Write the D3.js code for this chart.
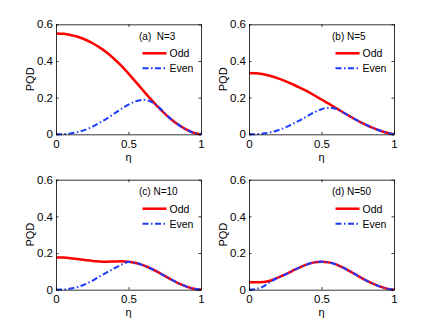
<!DOCTYPE html>
<html>
<head>
<meta charset="utf-8">
<script src="https://cdn.jsdelivr.net/npm/d3@7"></script>
<style>
  body { margin: 0; background: #fff; }
  svg { display: block; }
</style>
</head>
<body>
<svg id="chart"></svg>
<script>
// eta grid, step 0.05
var eta = [0, 0.05, 0.1, 0.15, 0.2, 0.25, 0.3, 0.35, 0.4, 0.45, 0.5,
           0.55, 0.6, 0.65, 0.7, 0.75, 0.8, 0.85, 0.9, 0.95, 1];

var oddN3  = [0.550, 0.548, 0.542, 0.532, 0.517, 0.498, 0.474, 0.446, 0.412, 0.374, 0.331,
              0.286, 0.240, 0.195, 0.152, 0.113, 0.078, 0.049, 0.025, 0.008, 0];
var evenN3 = [0, 0.001, 0.005, 0.012, 0.024, 0.041, 0.062, 0.086, 0.112, 0.138, 0.162,
              0.180, 0.188, 0.180, 0.155, 0.115, 0.078, 0.049, 0.025, 0.008, 0];

var oddN5  = [0.335, 0.333, 0.328, 0.318, 0.305, 0.290, 0.273, 0.255, 0.235, 0.213, 0.190,
              0.167, 0.143, 0.119, 0.096, 0.074, 0.054, 0.036, 0.021, 0.008, 0];
var evenN5 = [0, 0.001, 0.005, 0.011, 0.022, 0.037, 0.056, 0.076, 0.098, 0.120, 0.137,
              0.144, 0.139, 0.119, 0.096, 0.074, 0.054, 0.036, 0.021, 0.008, 0];

var oddN10  = [0.176, 0.175, 0.172, 0.167, 0.162, 0.157, 0.154, 0.153, 0.154, 0.155, 0.153,
               0.146, 0.134, 0.117, 0.097, 0.075, 0.053, 0.033, 0.017, 0.005, 0];
var evenN10 = [0, 0.001, 0.006, 0.015, 0.029, 0.048, 0.072, 0.094, 0.116, 0.136, 0.151,
               0.146, 0.134, 0.117, 0.097, 0.075, 0.053, 0.033, 0.017, 0.005, 0];

var oddN50  = [0.040, 0.040, 0.042, 0.050, 0.066, 0.083, 0.103, 0.122, 0.138, 0.149, 0.153,
               0.149, 0.138, 0.120, 0.099, 0.076, 0.054, 0.034, 0.018, 0.006, 0];
var evenN50 = [0, 0.004, 0.018, 0.045, 0.066, 0.083, 0.103, 0.122, 0.138, 0.149, 0.153,
               0.149, 0.138, 0.120, 0.099, 0.076, 0.054, 0.034, 0.018, 0.006, 0];

var panelLabels = ["(a)  N=3", "(b) N=5", "(c) N=10", "(d) N=50"];
var seriesNames = ["Odd", "Even"];
var xTicks = [0, 0.5, 1];
var yTicks = [0, 0.2, 0.4, 0.6];

var W = 436, H = 327;
var pw = 145, ph = 110;
var font = "'Liberation Sans', Arial, Helvetica, sans-serif";

var svg = d3.select("#chart").attr("width", W).attr("height", H);

var panels = [
  { left: 56,  top: 24.3,  odd: oddN3,  even: evenN3,  label: panelLabels[0] },
  { left: 249, top: 24.3,  odd: oddN5,  even: evenN5,  label: panelLabels[1] },
  { left: 56,  top: 179.7, odd: oddN10, even: evenN10, label: panelLabels[2] },
  { left: 249, top: 179.7, odd: oddN50, even: evenN50, label: panelLabels[3] }
];

var x = d3.scaleLinear().domain([0, 1]).range([0, pw]);
var y = d3.scaleLinear().domain([0, 0.6]).range([ph, 0]);

var line = d3.line()
  .x(function (d) { return x(d[0]); })
  .y(function (d) { return y(d[1]); })
  .curve(d3.curveMonotoneX);

var blue = "#1a3cff";
var dashDot = "6,2.5,1.5,2.5";

panels.forEach(function (p) {
  var g = svg.append("g").attr("transform", "translate(" + p.left + "," + p.top + ")");

  // curves: odd first, even dash-dot on top
  g.append("path")
    .datum(eta.map(function (e, i) { return [e, p.odd[i]]; }))
    .attr("d", line)
    .attr("fill", "none")
    .attr("stroke", "#ff0000")
    .attr("stroke-width", 2.5);

  g.append("path")
    .datum(eta.map(function (e, i) { return [e, p.even[i]]; }))
    .attr("d", line)
    .attr("fill", "none")
    .attr("stroke", blue)
    .attr("stroke-width", 2)
    .attr("stroke-dasharray", dashDot);

  // axes, ticks pointing inward
  var ax = [
    { a: d3.axisBottom(x).tickValues(xTicks).tickFormat(d3.format("~g")).tickPadding(5.5), t: "translate(0," + ph + ")" },
    { a: d3.axisTop(x).tickValues(xTicks).tickFormat(""), t: "translate(0,0)" },
    { a: d3.axisLeft(y).tickValues(yTicks).tickFormat(d3.format("~g")).tickPadding(3), t: "translate(0,0)" },
    { a: d3.axisRight(y).tickValues(yTicks).tickFormat(""), t: "translate(" + pw + ",0)" }
  ];
  ax.forEach(function (o) {
    var s = g.append("g")
      .attr("transform", o.t)
      .call(o.a.tickSize(-2.5).tickSizeOuter(0));
    s.select(".domain").attr("stroke", "#000").attr("stroke-width", 0.8);
    s.selectAll(".tick line").attr("stroke", "#000").attr("stroke-width", 0.8);
    s.selectAll("text").attr("font-family", font).attr("font-size", "11.5px").attr("fill", "#000");
  });

  // axis titles
  g.append("text")
    .text("η")
    .attr("x", pw / 2)
    .attr("y", ph + 26.5)
    .attr("text-anchor", "middle")
    .attr("font-family", font)
    .attr("font-size", "11px");

  g.append("text")
    .text("PQD")
    .attr("transform", "translate(-22.5," + (ph / 2) + ") rotate(-90)")
    .attr("text-anchor", "middle")
    .attr("font-family", font)
    .attr("font-size", "11px");

  // panel label
  g.append("text")
    .text(p.label)
    .attr("x", 83)
    .attr("y", 15.5)
    .attr("font-family", font)
    .attr("font-size", "10px")
    .style("white-space", "pre");

  // legend
  var leg = g.append("g").attr("transform", "translate(86.5,29)");
  seriesNames.forEach(function (name, i) {
    leg.append("line")
      .attr("x1", 0).attr("x2", 24)
      .attr("y1", i * 15).attr("y2", i * 15)
      .attr("stroke", i === 0 ? "#ff0000" : blue)
      .attr("stroke-width", i === 0 ? 2.5 : 2)
      .attr("stroke-dasharray", i === 0 ? null : dashDot);
    leg.append("text")
      .text(name)
      .attr("x", 27)
      .attr("y", i * 15 + 4)
      .attr("font-family", font)
      .attr("font-size", "10.5px");
  });
});
</script>
</body>
</html>
